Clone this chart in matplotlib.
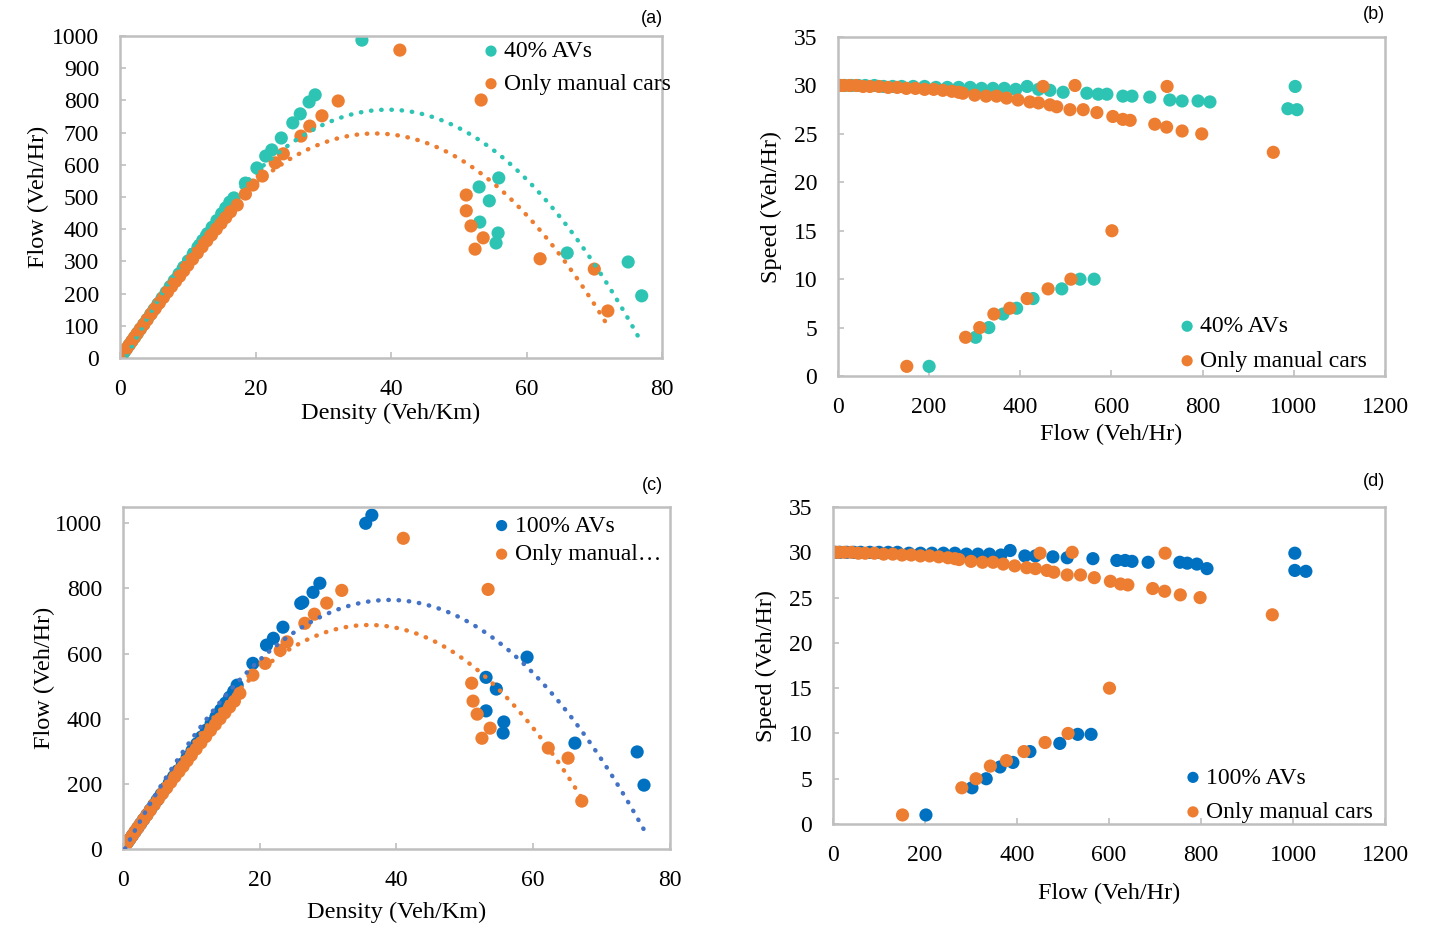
import numpy as np
import matplotlib
matplotlib.use("Agg")
import matplotlib.pyplot as plt

plt.rcParams["font.family"] = ["Liberation Serif", "DejaVu Serif"]

TEAL, ORANGE, BLUE, BLUE_TR = "#2EC4B4", "#ED7D31", "#0070C0", "#4472C4"
FRAME = "#bfbfbf"

# ---- (a) density vs flow, 40% AVs / manual ----
a_av_den = [0.3, 0.7, 1.0, 1.4, 1.8, 2.2, 2.6, 3.0, 3.5, 4.0, 4.5, 5.0, 5.6, 6.2, 6.8, 7.4,
            8.0, 8.7, 9.4, 10.1, 10.8, 11.5, 12.2, 12.9, 13.6, 14.3, 15.0, 15.6, 16.2,
            16.8, 18.5, 20.2, 21.5, 22.4, 23.8, 25.5, 26.6, 27.9, 28.8, 35.7,
            55.9, 53.0, 54.5, 53.1, 55.8, 55.5, 66.0, 75.0, 77.0]
a_av_flow = [9, 21, 30, 42, 54, 66, 78, 90, 105, 120, 135, 150, 168, 186, 204, 222,
             240, 261, 282, 302, 323, 344, 365, 386, 406, 427, 448, 466, 484,
             497, 543, 590, 627, 646, 683, 730, 758, 795, 817, 987,
             559, 531, 488, 422, 388, 357, 326, 298, 193]
a_mc_den = [0.2, 0.5, 0.9, 1.3, 1.7, 2.1, 2.5, 3.0, 3.5, 4.0, 4.6, 5.2, 5.8, 6.4, 7.0, 7.6,
            8.2, 8.8, 9.4, 10.0, 10.7, 11.4, 12.1, 12.8, 13.5, 14.2, 14.9, 15.6, 16.3,
            17.3, 18.5, 19.6, 21.0, 22.9, 24.1, 26.7, 28.0, 29.8, 32.2, 41.3, 53.3,
            51.1, 51.1, 51.8, 53.6, 52.4, 62.0, 70.0, 72.0]
a_mc_flow = [6, 15, 27, 39, 51, 63, 75, 90, 104, 119, 137, 154, 171, 188, 205, 222,
             238, 254, 271, 288, 307, 326, 345, 364, 382, 400, 418, 436, 454,
             475, 509, 537, 565, 606, 634, 689, 720, 752, 798, 956, 801,
             506, 457, 410, 373, 338, 308, 276, 146]
# poly(2) trendline coefficients: [x^2, x, 1]
a_av_trend = [-0.515, 40.685, -32.5]
a_mc_trend = [-0.505, 37.98, -17.0]

# ---- (c) density vs flow, 100% AVs / manual ----
c_av_den = [0.3, 0.7, 1.0, 1.4, 1.8, 2.2, 2.6, 3.0, 3.5, 4.0, 4.5, 5.0, 5.6, 6.2, 6.8, 7.4,
            8.0, 8.7, 9.4, 10.1, 10.8, 11.5, 12.2, 12.9, 13.6, 14.3, 15.0, 15.6, 16.2,
            16.7, 19.0, 21.0, 22.0, 23.4, 26.0, 26.3, 27.8, 28.8, 35.5, 36.4,
            59.1, 53.1, 54.6, 53.1, 55.7, 55.6, 66.1, 75.2, 76.2]
c_av_flow = [9, 21, 30, 42, 54, 66, 78, 90, 105, 120, 135, 150, 168, 186, 204, 222,
             240, 261, 282, 302, 323, 344, 365, 386, 406, 427, 448, 466, 484,
             503, 570, 626, 647, 681, 754, 758, 788, 816, 1000, 1025,
             589, 527, 491, 424, 390, 356, 325, 298, 196]
c_mc_den = [0.2, 0.5, 0.9, 1.3, 1.7, 2.1, 2.5, 3.0, 3.5, 4.0, 4.6, 5.2, 5.8, 6.4, 7.0, 7.6,
            8.2, 8.8, 9.4, 10.0, 10.7, 11.4, 12.1, 12.8, 13.5, 14.2, 14.9, 15.6, 16.3,
            17.1, 19.0, 20.8, 23.0, 24.0, 26.6, 28.0, 29.8, 32.0, 41.0, 53.4,
            51.0, 51.2, 51.8, 53.7, 52.5, 62.2, 65.1, 67.1]
c_mc_flow = [6, 15, 27, 39, 51, 63, 75, 90, 104, 119, 137, 154, 171, 188, 205, 222,
             238, 254, 271, 288, 307, 326, 345, 364, 382, 400, 418, 436, 454,
             478, 534, 570, 610, 636, 693, 721, 755, 794, 954, 797,
             509, 454, 414, 371, 340, 310, 279, 147]
c_av_trend = [-0.510, 39.78, -11.0]
c_mc_trend = [-0.550, 39.60, -25.0]

# ---- (b)/(d) flow vs speed ----
b_av_flow = [5, 15, 30, 45, 60, 80, 100, 120, 140, 165, 190, 215, 240, 265, 290, 315, 340,
             365, 390, 415, 440, 465, 494, 546, 571, 590, 625, 645, 684, 728, 755, 790, 816,
             1003, 987, 1007,
             200, 302, 331, 362, 392, 428, 491, 531, 562]
b_av_speed = [30.0, 30.0, 30.0, 30.0, 30.0, 30.0, 29.9, 29.9, 29.9, 29.9, 29.9, 29.8, 29.8,
              29.8, 29.8, 29.7, 29.7, 29.7, 29.6, 29.9, 29.6, 29.5, 29.3, 29.2, 29.1, 29.1,
              28.9, 28.9, 28.8, 28.5, 28.4, 28.4, 28.3,
              29.9, 27.6, 27.5,
              1.0, 4.0, 5.0, 6.4, 7.0, 8.0, 9.0, 10.0, 10.0]
d_av_flow = [5, 15, 30, 45, 60, 80, 100, 120, 140, 165, 190, 215, 240, 265, 290, 315, 340,
             365, 385, 417, 440, 478, 509, 565, 617, 635, 650, 685, 754, 770, 791, 813,
             1004, 1004, 1028,
             202, 302, 333, 363, 391, 428, 493, 532, 561]
d_av_speed = [30.0, 30.0, 30.0, 30.0, 30.0, 30.0, 30.0, 30.0, 30.0, 29.9, 29.9, 29.9, 29.9,
              29.9, 29.8, 29.8, 29.8, 29.7, 30.2, 29.6, 29.6, 29.5, 29.4, 29.3, 29.1, 29.1,
              29.0, 28.9, 28.9, 28.8, 28.7, 28.2,
              29.9, 28.0, 27.9,
              1.0, 4.0, 5.0, 6.3, 6.8, 8.0, 8.9, 9.9, 9.9]
mc_flow = [3, 12, 25, 40, 55, 70, 90, 110, 130, 150, 170, 190, 210, 230, 250, 265, 274, 300,
           325, 348, 370, 395, 421, 440, 465, 480, 509, 538, 568, 603, 625, 641, 695, 721,
           755, 798, 450, 520, 722, 955,
           151, 280, 311, 342, 377, 415, 461, 511, 601]
mc_speed = [30.0, 30.0, 30.0, 30.0, 29.9, 29.9, 29.9, 29.8, 29.8, 29.7, 29.7, 29.6, 29.6,
            29.5, 29.4, 29.3, 29.2, 29.0, 28.9, 28.9, 28.7, 28.5, 28.3, 28.2, 28.0, 27.8,
            27.5, 27.5, 27.2, 26.8, 26.5, 26.4, 26.0, 25.7, 25.3, 25.0, 29.9, 30.0, 29.9, 23.1,
            1.0, 4.0, 5.0, 6.4, 7.0, 8.0, 9.0, 10.0, 15.0]


def style(ax, xlim, ylim, xticks, yticks):
    ax.set_xlim(xlim); ax.set_ylim(ylim)
    ax.set_xticks(xticks); ax.set_yticks(yticks)
    for s in ax.spines.values():
        s.set_color(FRAME); s.set_linewidth(1.8)
    ax.tick_params(direction="in", length=4, width=1.2, color=FRAME, labelsize=17, pad=15,
                   labelfontfamily="Liberation Serif")


def scatter_trend(ax, x, y, color, label, trend=None, trend_color=None):
    ax.scatter(x, y, s=90, color=color, edgecolors="none", label=label, zorder=2)
    if trend is not None:
        xs = np.linspace(min(x), max(x), 300)
        ax.plot(xs, np.polyval(trend, xs), color=trend_color, lw=3.2,
                ls=(0, (0.1, 2.2)), dash_capstyle="round", zorder=3)


def legend(ax, loc, anchor, spacing):
    ax.legend(loc=loc, bbox_to_anchor=anchor, frameon=False, fontsize=17,
              handlelength=0.8, handletextpad=0.15, borderaxespad=0, borderpad=0,
              labelspacing=spacing, markerscale=0.85)


fig = plt.figure(figsize=(14.43, 9.31), dpi=100)
axa = fig.add_axes([0.0832, 0.6155, 0.3756, 0.3459])
axb = fig.add_axes([0.5807, 0.5961, 0.3791, 0.3641])
axc = fig.add_axes([0.0852, 0.0881, 0.3791, 0.3673])
axd = fig.add_axes([0.5773, 0.1149, 0.3825, 0.3405])

# (a)
scatter_trend(axa, a_av_den, a_av_flow, TEAL, "40% AVs", a_av_trend, TEAL)
scatter_trend(axa, a_mc_den, a_mc_flow, ORANGE, "Only manual cars", a_mc_trend, ORANGE)
style(axa, (0, 80), (0, 1000), range(0, 81, 20), range(0, 1001, 100))
axa.set_xlabel("Density (Veh/Km)", fontsize=17.5, labelpad=2)
axa.set_ylabel("Flow (Veh/Hr)", fontsize=17.5, labelpad=2)
legend(axa, "upper left", (0.667, 0.985), 0.47)

# (b)
scatter_trend(axb, b_av_flow, b_av_speed, TEAL, "40% AVs")
scatter_trend(axb, mc_flow, mc_speed, ORANGE, "Only manual cars")
style(axb, (0, 1200), (0, 35), range(0, 1201, 200), range(0, 36, 5))
axb.set_xlabel("Flow (Veh/Hr)", fontsize=17.5, labelpad=4)
axb.set_ylabel("Speed (Veh/Hr)", fontsize=17.5, labelpad=8)
legend(axb, "lower left", (0.621, 0.012), 0.55)

# (c)
scatter_trend(axc, c_av_den, c_av_flow, BLUE, "100% AVs", c_av_trend, BLUE_TR)
scatter_trend(axc, c_mc_den, c_mc_flow, ORANGE, "Only manual\u2026", c_mc_trend, ORANGE)
style(axc, (0, 80), (0, 1050), range(0, 81, 20), range(0, 1001, 200))
axc.set_xlabel("Density (Veh/Km)", fontsize=17.5, labelpad=8)
axc.set_ylabel("Flow (Veh/Hr)", fontsize=17.5, labelpad=0)
legend(axc, "upper left", (0.675, 0.976), 0.3)

# (d)
scatter_trend(axd, d_av_flow, d_av_speed, BLUE, "100% AVs")
scatter_trend(axd, mc_flow, mc_speed, ORANGE, "Only manual cars")
style(axd, (0, 1200), (0, 35), range(0, 1201, 200), range(0, 36, 5))
axd.set_xlabel("Flow (Veh/Hr)", fontsize=17.5, labelpad=12)
axd.set_ylabel("Speed (Veh/Hr)", fontsize=17.5, labelpad=8)
legend(axd, "lower left", (0.635, 0.003), 0.55)

for lab, (x, y) in {"(a)": (0.452, 0.980), "(b)": (0.952, 0.984),
                    "(c)": (0.452, 0.479), "(d)": (0.952, 0.483)}.items():
    fig.text(x, y, lab, fontsize=13, family="Liberation Sans", ha="center", va="center")

fig.savefig("out.png", dpi=100)
